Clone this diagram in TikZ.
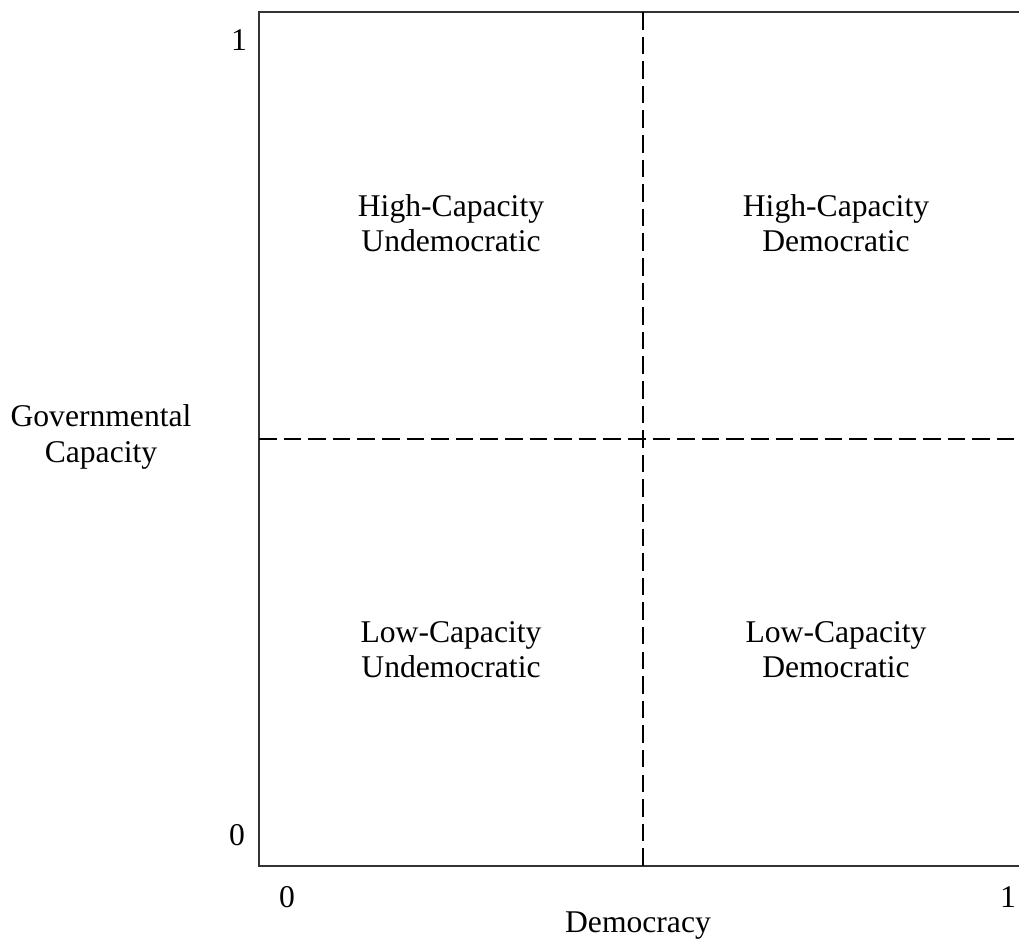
\documentclass[tikz,border=0pt]{standalone}
\usepackage{fontspec}
\setmainfont{Liberation Serif}
\usepackage{tikz}

\begin{document}
\begin{tikzpicture}[x=0.02cm, y=0.02cm,
    lbl/.style={font=\fontsize{18}{20}\selectfont, align=center, inner sep=0pt},
    axis/.style={line width=1.1pt, black!80},
    split/.style={line width=1.1pt, dash pattern=on 10pt off 4pt}]
    \useasboundingbox (0,0) rectangle (1019,940);

    % Frame corners (the right side is left open)
    \coordinate (tl) at (259,928);
    \coordinate (bl) at (259,74);
    \coordinate (tr) at (1019,928);
    \coordinate (br) at (1019,74);
    \coordinate (mt) at (643,928);
    \coordinate (mb) at (643,74);
    \coordinate (ml) at (259,501);
    \coordinate (mr) at (1019,501);

    % Frame
    \draw[axis] (tr) -- (tl) -- (bl) -- (br);

    % Dashed dividers
    \draw[split] (mt) -- (mb);
    \draw[split] (ml) -- (mr);

    % Axis ticks
    \node[lbl] (y1) at (239,900) {1};
    \node[lbl] (y0) at (237,105) {0};
    \node[lbl] (x0) at (287,43) {0};
    \node[lbl] (x1) at (1008,43) {1};

    % Axis titles
    \node[lbl] (xname) at (638,14) {Democracy};
    \node[lbl] (yname) at (101,503) {Governmental\\Capacity};

    % Quadrants
    \node[lbl] (hu) at (451,717) {High-Capacity\\Undemocratic};
    \node[lbl] (hd) at (836,717) {High-Capacity\\Democratic};
    \node[lbl] (lu) at (451,290) {Low-Capacity\\Undemocratic};
    \node[lbl] (ld) at (836,290) {Low-Capacity\\Democratic};

\end{tikzpicture}
\end{document}
